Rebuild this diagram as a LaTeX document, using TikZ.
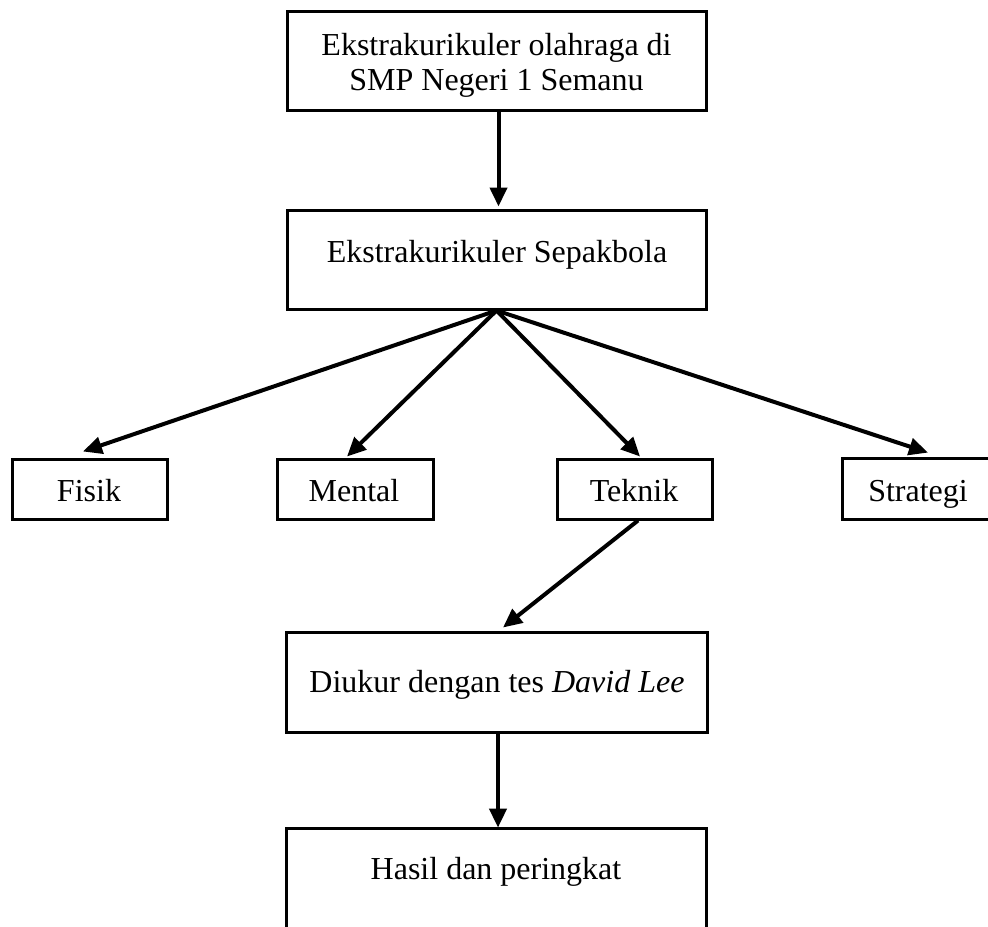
\documentclass[tikz,border=0pt]{standalone}
\usepackage{fontspec}
\setmainfont{Liberation Serif}
\usetikzlibrary{arrows.meta,calc}
\tikzset{
  box/.style={draw=black, line width=1.5pt, inner sep=0pt, minimum width=#1},
  box/.default={77.5pt},
  openbox/.style={inner sep=0pt, minimum width=#1},
  edge/.style={line width=1.5pt},
  lbl/.style={font=\fontsize{16}{17.5}\selectfont, inner sep=0pt, anchor=base, align=center},
  conn/.style={line width=2pt, -{Triangle[length=9.5pt,width=8.5pt]}},
}
\begin{document}
\begin{tikzpicture}[x=0.5pt,y=-0.5pt]
\useasboundingbox (0,0) rectangle (988,926);
\clip (0,0) rectangle (988,926);
% main boxes
\node[box=209.5pt, minimum height=49.5pt] (b1) at (496.5,60.5) {};
\node[lbl, anchor=center] (t1) at (496.5,65) {Ekstrakurikuler olahraga di\\SMP Negeri 1 Semanu};
\node[box=209.5pt, minimum height=49.5pt] (b2) at (496.5,259.5) {};
\node[lbl] (t2) at (497,262) {Ekstrakurikuler Sepakbola};
% aspect boxes
\node[box, minimum height=30pt] (fisik) at (89.5,489) {};
\node[lbl] (tf) at (89,501) {Fisik};
\node[box=78pt, minimum height=30pt] (mental) at (355,489) {};
\node[lbl] (tm) at (354,501) {Mental};
\node[box, minimum height=30pt] (teknik) at (634.5,489) {};
\node[lbl] (tt) at (634,501) {Teknik};
% Strategi box runs off the right edge
\node[openbox=77pt, minimum height=30pt] (strategi) at (919.5,489) {};
\draw[edge] (strategi.north east) -- (strategi.north west) -- (strategi.south west) -- (strategi.south east);
\node[lbl] (ts) at (918,501) {Strategi};
% measurement box
\node[box=210.5pt, minimum height=50pt] (diukur) at (496.5,682) {};
\node[lbl] (td) at (497,692) {Diukur dengan tes \textit{David Lee}};
% result box (bottom cut off)
\node[openbox=209.5pt, minimum height=55pt] (hasil) at (496.5,884) {};
\draw[edge] (hasil.south west) -- (hasil.north west) -- (hasil.north east) -- (hasil.south east);
\node[lbl] (th) at (496,879) {Hasil dan peringkat};
% connectors
\draw[conn] ($(b1.south)+(2,0)$) -- ($(b2.north)+(2,-2)$);
\draw[conn] (b2.south) -- ($(fisik.north)+(-6.5,-6)$);
\draw[conn] (b2.south) -- ($(mental.north)+(-8,-1)$);
\draw[conn] (b2.south) -- ($(teknik.north)+(5.5,-1)$);
\draw[conn] (b2.south) -- ($(strategi.north)+(8.5,-6)$);
\draw[conn] ($(teknik.south)+(3.5,0)$) -- ($(diukur.north)+(6.5,-3)$);
\draw[conn] ($(diukur.south)+(1.5,0)$) -- ($(hasil.north)+(1.5,-1)$);
\end{tikzpicture}
\end{document}
